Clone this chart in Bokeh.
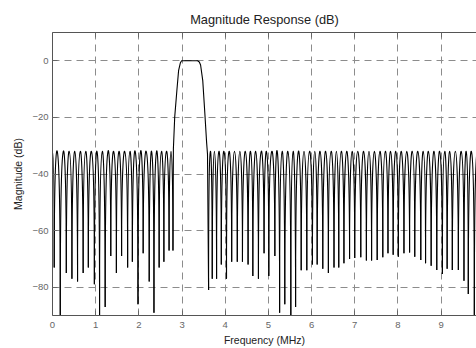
import numpy as np
from bokeh.plotting import figure
from bokeh.models import LinearAxis, FixedTicker, Range1d, ColumnDataSource, CustomJSTickFormatter
from bokeh.embed import file_html
from bokeh.resources import INLINE

# ---------------- data ----------------
title_text = "Magnitude Response (dB)"
x_label = "Frequency (MHz)"
y_label = "Magnitude (dB)"
x_ticks = [0, 1, 2, 3, 4, 5, 6, 7, 8, 9, 10]
y_ticks = [-80, -60, -40, -20, 0]

# lower stopband: null frequencies (MHz) and null depths (dB)
lower_null_mhz = [-0.04, 0.04, 0.18, 0.32, 0.45, 0.58, 0.71, 0.83, 0.97, 1.09,
                  1.22, 1.35, 1.48, 1.60, 1.74, 1.85, 1.98, 2.10, 2.24, 2.35,
                  2.47, 2.58, 2.70, 2.79]
lower_null_db = [-73, -73, -90, -75, -77, -78, -75, -73, -79, -90,
                 -87, -69, -75, -69, -73, -71, -86, -68, -78, -89,
                 -73, -71, -67, -67]

# passband and transition bands
passband_mhz = [2.80, 2.83, 2.88, 2.92, 2.96, 2.99, 3.36, 3.40, 3.43, 3.48, 3.53, 3.57, 3.59]
passband_db = [-31, -20, -10.6, -3.5, -0.8, 0.0, 0.0, -0.4, -1.5, -7, -19, -29, -33]

# upper stopband: null frequencies (MHz) and null depths (dB)
upper_null_mhz = [3.615, 3.70, 3.80, 3.91, 4.03, 4.15, 4.28, 4.40, 4.53, 4.64,
                  4.77, 4.90, 5.01, 5.15, 5.26, 5.38, 5.52, 5.63, 5.76, 5.89,
                  6.02, 6.13, 6.26, 6.39, 6.52, 6.63, 6.75, 6.88, 7.00, 7.14,
                  7.27, 7.39, 7.52, 7.65, 7.77, 7.89, 8.01, 8.14, 8.27, 8.39,
                  8.53, 8.64, 8.77, 8.90, 9.03, 9.14, 9.26, 9.40, 9.53, 9.63,
                  9.77, 9.90]
upper_null_db = [-81, -77, -77, -72, -77, -71, -71, -71, -72, -76,
                 -77, -68, -76, -69, -89, -86, -90, -87, -74, -74,
                 -72, -72, -73.5, -75, -73, -73, -71.5, -70, -69.7, -69.4,
                 -70.6, -70.6, -70.4, -69.4, -68, -68.5, -69.2, -68, -67.7, -69.2,
                 -70.4, -71.5, -72.4, -73.9, -75.3, -73.5, -73.9, -73.9, -77.7, -82.4,
                 -90, -72]

stopband_peak_db = -32.0  # sidelobe peak level

# ---------------- figure ----------------
AX = "#555555"
TICK = "#666666"
FONT = "Liberation Sans"

p = figure(width=476, height=348, x_range=Range1d(0, 9.82), y_range=Range1d(-90, 10),
           output_backend="svg", toolbar_location=None,
           min_border_left=52, min_border_right=0, min_border_top=32, min_border_bottom=32,
           x_axis_label=x_label, y_axis_label=y_label, title=title_text)
p.background_fill_color = "white"
p.border_fill_color = "white"
p.outline_line_color = None

p.title.align = "center"
p.title.vertical_align = "top"
p.title.text_font = FONT
p.title.text_font_size = "12.8px"
p.title.text_font_style = "normal"
p.title.text_color = "#222222"
p.title.offset = 6
p.title.standoff = 7

for ax in (p.xaxis[0], p.yaxis[0]):
    ax.axis_line_color = AX
    ax.major_tick_line_color = TICK
    ax.major_tick_in = 5
    ax.major_tick_out = 0
    ax.minor_tick_line_color = None
    ax.major_label_text_font = FONT
    ax.major_label_text_font_size = "9.5px"
    ax.major_label_text_color = TICK
    ax.axis_label_text_font = FONT
    ax.axis_label_text_font_size = "10.5px"
    ax.axis_label_text_font_style = "normal"
    ax.axis_label_text_color = "#222222"

p.xaxis[0].ticker = FixedTicker(ticks=x_ticks)
p.yaxis[0].ticker = FixedTicker(ticks=y_ticks)
p.xaxis[0].major_label_standoff = 6
p.xaxis[0].axis_label_standoff = 3
p.yaxis[0].major_label_standoff = 4
p.yaxis[0].axis_label_standoff = 5

top = LinearAxis(ticker=FixedTicker(ticks=x_ticks),
                 formatter=CustomJSTickFormatter(code="return ''"),
                 major_tick_in=5, major_tick_out=0, minor_tick_line_color=None,
                 axis_line_color=AX, major_tick_line_color=TICK, major_label_standoff=0)
p.add_layout(top, "above")

p.xgrid.ticker = FixedTicker(ticks=x_ticks)
p.ygrid.ticker = FixedTicker(ticks=y_ticks)
for g in (p.xgrid[0], p.ygrid[0]):
    g.grid_line_color = "#8c8c8c"
    g.grid_line_dash = "7 5"
    g.grid_line_width = 1


def lobe_source(fx, fy):
    fx = np.asarray(fx, float)
    fy = np.asarray(fy, float)
    x0, x1, y0, y1 = fx[:-1], fx[1:], fy[:-1], fy[1:]
    cy = (stopband_peak_db - 0.125 * (y0 + y1)) / 0.75
    return ColumnDataSource(dict(x0=x0, y0=y0, x1=x1, y1=y1, cx0=x0, cy0=cy, cx1=x1, cy1=cy))


LINE = "black"
LW = 1.1
for fx, fy in ((lower_null_mhz, lower_null_db), (upper_null_mhz, upper_null_db)):
    p.bezier(x0="x0", y0="y0", x1="x1", y1="y1", cx0="cx0", cy0="cy0", cx1="cx1", cy1="cy1",
             source=lobe_source(fx, fy), line_color=LINE, line_width=LW)

pb_x = [lower_null_mhz[-1]] + passband_mhz + [upper_null_mhz[0]]
pb_y = [lower_null_db[-1]] + passband_db + [upper_null_db[0]]
p.line(pb_x, pb_y, line_color=LINE, line_width=LW)

open("out.html", "w").write(file_html(p, INLINE))
